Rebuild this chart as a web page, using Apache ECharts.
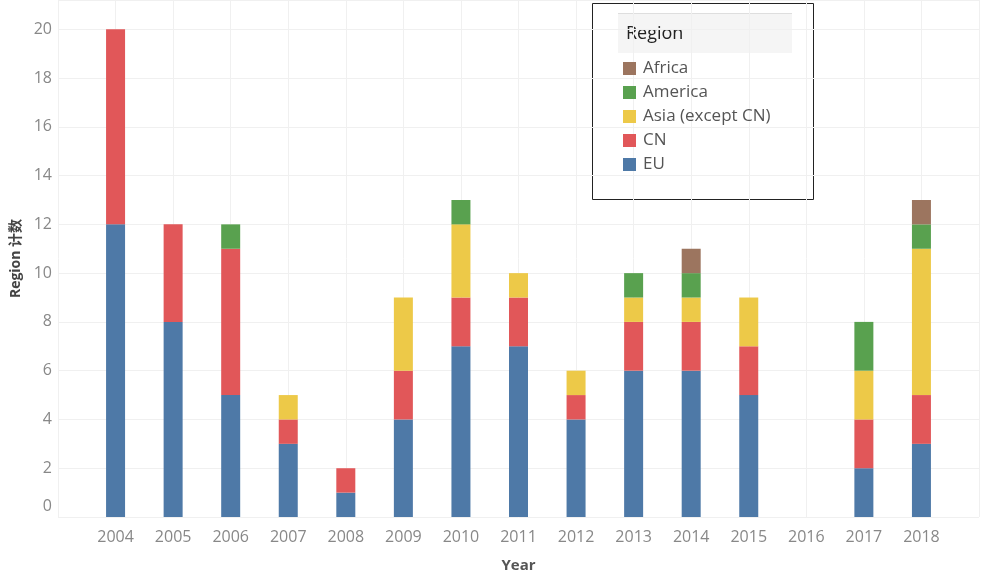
<!DOCTYPE html>
<html>
<head>
<meta charset="utf-8">
<script src="https://cdn.jsdelivr.net/npm/echarts@6/dist/echarts.min.js"></script>
<style>
html,body{margin:0;padding:0;background:#fff;}
#chart{width:982px;height:578px;}
</style>
</head>
<body>
<div id="chart"></div>
<script>
var years = ['2004','2005','2006','2007','2008','2009','2010','2011','2012','2013','2014','2015','2016','2017','2018'];
var regionNames = ['EU','CN','Asia (except CN)','America','Africa'];
var regionColors = ['#4e79a7','#e15759','#edc948','#59a14f','#9c755f'];
var euValues      = [12, 8, 5, 3, 1, 4, 7, 7, 4, 6, 6, 5, null, 2, 3];
var cnValues      = [ 8, 4, 6, 1, 1, 2, 2, 2, 1, 2, 2, 2, null, 2, 2];
var asiaValues    = [null, null, null, 1, null, 3, 3, 1, 1, 1, 1, 2, null, 2, 6];
var americaValues = [null, null, 1, null, null, null, 1, null, null, 1, 1, null, null, 2, 1];
var africaValues  = [null, null, null, null, null, null, null, null, null, null, 1, null, null, null, 1];
var yTicks = [0, 2, 4, 6, 8, 10, 12, 14, 16, 18, 20];

var seriesValues = [euValues, cnValues, asiaValues, americaValues, africaValues];
var axisCats = [''].concat(years, ['']);
var font = '"Open Sans", "Noto Sans CJK SC", sans-serif';

var series = regionNames.map(function (name, i) {
  return {
    name: name,
    type: 'bar',
    stack: 'total',
    barWidth: 19,
    itemStyle: { color: regionColors[i] },
    data: years.map(function (y, j) { return [y, seriesValues[i][j]]; }).filter(function (d) { return d[1] != null; })
  };
});

var chart = echarts.init(document.getElementById('chart'));
chart.setOption({
  animation: false,
  backgroundColor: '#ffffff',
  grid: { left: 58, right: 0, top: 0, bottom: 59 },
  xAxis: {
    type: 'category',
    data: axisCats,
    boundaryGap: false,
    name: 'Year',
    nameLocation: 'middle',
    nameGap: 41,
    nameTextStyle: { fontFamily: font, fontSize: 15, fontWeight: 'bold', color: '#555' },
    axisLine: { show: false },
    axisTick: { show: false },
    axisLabel: { fontFamily: font, fontSize: 16, color: '#888', margin: 12, interval: 0 },
    splitLine: { show: true, lineStyle: { color: '#f0f0f0', width: 1 } }
  },
  yAxis: {
    type: 'value',
    min: 0,
    max: 21.2,
    interval: 2,
    name: 'Region 计数',
    nameLocation: 'middle',
    nameGap: 35,
    nameTextStyle: { fontFamily: font, fontSize: 14, fontWeight: 'bold', color: '#444' },
    axisLine: { show: false },
    axisTick: { show: false },
    axisLabel: {
      fontFamily: font, fontSize: 16, color: '#888', margin: 6,
      formatter: function (v) {
        if (yTicks.indexOf(v) < 0) return '';
        return v === 0 ? '{z|0}' : String(v);
      },
      rich: { z: { fontFamily: font, fontSize: 16, color: '#888', padding: [0, 0, 22, 0] } }
    },
    splitLine: { show: true, lineStyle: { color: '#f0f0f0', width: 1 } }
  },
  legend: {
    orient: 'vertical',
    left: 618,
    top: 55,
    itemWidth: 13,
    itemHeight: 13,
    itemGap: 7,
    icon: 'rect',
    data: regionNames.slice().reverse(),
    textStyle: { fontFamily: font, fontSize: 17, lineHeight: 17, color: '#555', padding: [0, 0, 0, 2] }
  },
  graphic: [
    { type: 'rect', shape: { x: 592.5, y: 3.5, width: 221, height: 196 }, style: { fill: '#fff', stroke: '#222', lineWidth: 1 }, z: -1 },
    { type: 'rect', shape: { x: 618, y: 13, width: 174, height: 40 }, style: { fill: '#f5f5f5' }, z: 0 },
    { type: 'line', shape: { x1: 618, y1: 13.5, x2: 792, y2: 13.5 }, style: { stroke: '#dedede', lineWidth: 1 } },
    { type: 'line', shape: { x1: 618, y1: 175.5, x2: 792, y2: 175.5 }, style: { stroke: '#dedede', lineWidth: 1 } },
    { type: 'text', left: 626, top: 25, style: { text: 'Region', font: 'normal 18px "Open Sans", sans-serif', fill: '#222' } }
  ],
  series: series
});
</script>
</body>
</html>
